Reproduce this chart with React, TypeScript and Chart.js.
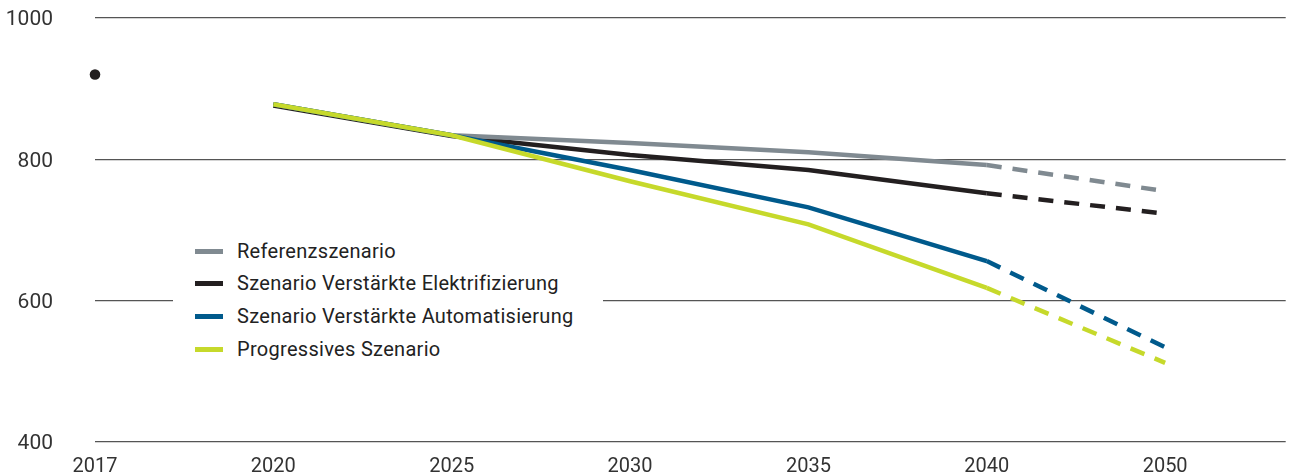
import React, { useEffect, useRef } from 'react';
import { Chart, registerables } from 'chart.js';

Chart.register(...registerables);

const years = ['2017', '2020', '2025', '2030', '2035', '2040', '2050'];
const yTicks = [400, 600, 800, 1000];
const historic = [920, null, null, null, null, null, null];
const referenz = [null, 878, 834, 823, 810, 792, 755];
const elektrifizierung = [null, 876, 833, 806, 785, 752, 723];
const automatisierung = [null, 878, 834, 785, 732, 656, 534];
const progressiv = [null, 878, 834, 769, 708, 618, 512];
const seriesNames = [
  'Referenzszenario',
  'Szenario Verstärkte Elektrifizierung',
  'Szenario Verstärkte Automatisierung',
  'Progressives Szenario',
];
const seriesColors = ['#808a91', '#231f20', '#005a8c', '#c6d92b'];
const seriesValues = [referenz, elektrifizierung, automatisierung, progressiv];
const seriesOrder = [2, 3, 1, 0];
const forecastFrom = 5; // index of 2040: dashed afterwards

const FONT = 'Roboto, "Noto Sans", sans-serif';
const W = 1291;
const H = 476;

const toPoints = (arr: (number | null)[]) =>
  arr
    .map((v, i) => (v === null ? null : { x: i, y: v }))
    .filter((p) => p !== null) as { x: number; y: number }[];

export default function App() {
  const canvasRef = useRef<HTMLCanvasElement | null>(null);

  useEffect(() => {
    document.body.style.margin = '0';
    const canvas = canvasRef.current;
    if (!canvas) return;

    const datasets: any[] = seriesValues.map((vals, i) => ({
      label: seriesNames[i],
      data: toPoints(vals),
      borderColor: seriesColors[i],
      backgroundColor: seriesColors[i],
      borderWidth: 4.5,
      pointRadius: 0,
      tension: 0,
      fill: false,
      clip: false,
      order: seriesOrder[i],
      borderCapStyle: 'butt',
      segment: {
        borderDash: (ctx: any) => (ctx.p0.parsed.x >= forecastFrom ? [15, 11] : undefined),
      },
    }));
    datasets.push({
      label: 'historic',
      data: toPoints(historic),
      showLine: false,
      pointRadius: 5.3,
      pointBackgroundColor: '#231f20',
      pointBorderWidth: 0,
      clip: false,
      order: 5,
    });

    const chart = new Chart(canvas, {
      type: 'line',
      data: { datasets },
      options: {
        animation: false,
        responsive: false,
        layout: { padding: { left: 0, right: 3, top: 18, bottom: 0 } },
        plugins: { legend: { display: false }, tooltip: { enabled: false } },
        scales: {
          x: {
            type: 'linear',
            min: 0,
            max: 6.676,
            border: { display: false },
            grid: { display: false, drawTicks: false },
            afterBuildTicks: (s: any) => {
              s.ticks = years.map((_, i) => ({ value: i }));
            },
            afterFit: (s: any) => {
              s.height = 34;
              s.paddingLeft = 0;
              s.paddingRight = 0;
            },
            ticks: {
              autoSkip: false,
              maxRotation: 0,
              padding: 13,
              color: '#333333',
              font: { family: FONT, size: 20 },
              callback: (v: any) => years[v as number] ?? '',
            },
          },
          y: {
            type: 'linear',
            min: 400,
            max: 1000,
            border: { display: false },
            grid: { color: '#555555', lineWidth: 1.2, drawTicks: false },
            afterBuildTicks: (s: any) => {
              s.ticks = yTicks.map((v) => ({ value: v }));
            },
            afterFit: (s: any) => {
              s.width = 95;
              s.paddingTop = 0;
              s.paddingBottom = 0;
            },
            ticks: {
              padding: 42,
              labelOffset: 2,
              color: '#333333',
              font: { family: FONT, size: 21 },
              callback: (v: any) => String(v),
            },
          },
        },
      },
    });
    return () => chart.destroy();
  }, []);

  const rowCenters = [251, 283, 316, 349];
  const boxTop = 232;

  return (
    <div style={{ position: 'relative', width: W, height: H }}>
      <canvas ref={canvasRef} width={W} height={H} style={{ display: 'block', width: W, height: H }} />
      <div
        style={{
          position: 'absolute',
          left: 173,
          top: boxTop,
          width: 430,
          height: 136,
          background: '#ffffff',
        }}
      >
        {seriesNames.map((name, i) => (
          <div
            key={name}
            style={{
              position: 'absolute',
              left: 22,
              top: rowCenters[i] - boxTop - 13,
              height: 26,
              display: 'flex',
              alignItems: 'center',
              whiteSpace: 'nowrap',
            }}
          >
            <span
              style={{
                display: 'inline-block',
                width: 28,
                height: 5,
                background: seriesColors[i],
                marginRight: 14,
              }}
            />
            <span style={{ fontFamily: FONT, fontSize: 20, color: '#222222', letterSpacing: 0.3 }}>
              {name}
            </span>
          </div>
        ))}
      </div>
    </div>
  );
}
